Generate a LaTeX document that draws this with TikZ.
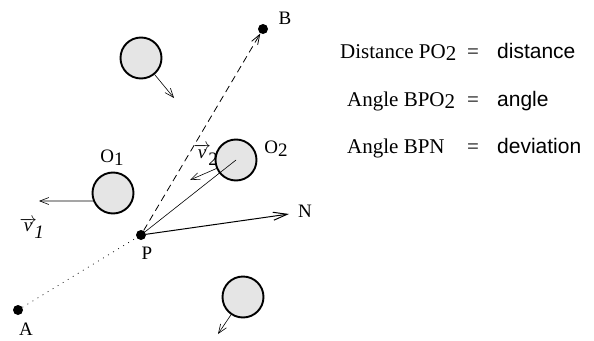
\documentclass[tikz,border=0pt]{standalone}
\usepackage{fontspec}
\setmainfont{Liberation Serif}
\setsansfont{Liberation Sans}
\usetikzlibrary{arrows.meta}
\tikzset{
  obst/.style={circle,draw,line width=1.9pt,fill=black!10,minimum size=41pt,inner sep=0pt},
  pt/.style={circle,fill=black,minimum size=10pt,inner sep=0pt},
  lab/.style={font=\fontsize{19}{19}\selectfont,inner sep=0pt},
  rtext/.style={font=\fontsize{21}{21}\selectfont,inner sep=0pt,anchor=base west},
  varr/.style={line width=0.6pt,-{Straight Barb[length=9pt,width=7pt,line width=0.6pt]}},
}
\newcommand{\subtwo}{\raisebox{-0.3ex}{2}}
\begin{document}
\begin{tikzpicture}[x=1pt,y=-1pt]
\useasboundingbox (0,0) rectangle (594,340);
% points
\node[pt] (A) at (18,310) {};
\node[pt] (P) at (141,235) {};
\node[pt] (B) at (263,29) {};
\node[lab] (Alab) at (26,329) {A};
\node[lab] (Plab) at (147,253) {P};
\node[lab] (Blab) at (285,18) {B};
% obstacles
\node[obst] (c1) at (141,58) {};
\node[obst] (o1) at (113,193) {};
\node[obst] (o2) at (236,160) {};
\node[obst] (c4) at (243,297) {};
% coordinates
\coordinate (c1end) at (174,98);
\coordinate (v1end) at (39,201);
\coordinate (v2end) at (190,180);
\coordinate (c4end) at (218,334);
\coordinate (N) at (289,214);
% lines
\draw[line width=0.7pt,dash pattern=on 0.9pt off 5pt] (A) -- (P);
\draw[line width=0.8pt,dash pattern=on 7pt off 4.5pt,-{Straight Barb[length=10pt,width=7pt,line width=0.8pt]}] (P) -- (B);
\draw[line width=0.6pt] (P) -- (o2.center);
\draw[line width=1pt,-{Straight Barb[length=14pt,width=8pt,line width=1pt]}] (P) -- (N);
\draw[varr] (c1) -- (c1end);
\draw[varr] (o1.202) -- (v1end);
\draw[varr] (o2) -- (v2end);
\draw[varr] (c4) -- (c4end);
% labels
\node[lab] (Nlab) at (305,211) {N};
\node[lab] (o2lab) at (276,149) {O\subtwo};
\node[lab] (o1lab) at (112,158) {O\raisebox{-0.3ex}{1}};
\node[lab] (v1lab) at (32,228) {$\overrightarrow{\textit{v}}_{\!\textit{1}}$};
\node[lab] (v2lab) at (206,155) {$\overrightarrow{\textit{v}}_{\!\textrm{2}}$};
% text
\node[rtext] (t1) at (340,58) {Distance PO\subtwo};
\node[rtext] (e1) at (467,58) {=};
\node[rtext] (r1) at (497,58) {\sffamily distance};
\node[rtext] (t2) at (347,106) {Angle BPO\subtwo};
\node[rtext] (e2) at (467,106) {=};
\node[rtext] (r2) at (497,106) {\sffamily angle};
\node[rtext] (t3) at (347,153) {Angle BPN};
\node[rtext] (e3) at (467,153) {=};
\node[rtext] (r3) at (497,153) {\sffamily deviation};
\end{tikzpicture}
\end{document}
